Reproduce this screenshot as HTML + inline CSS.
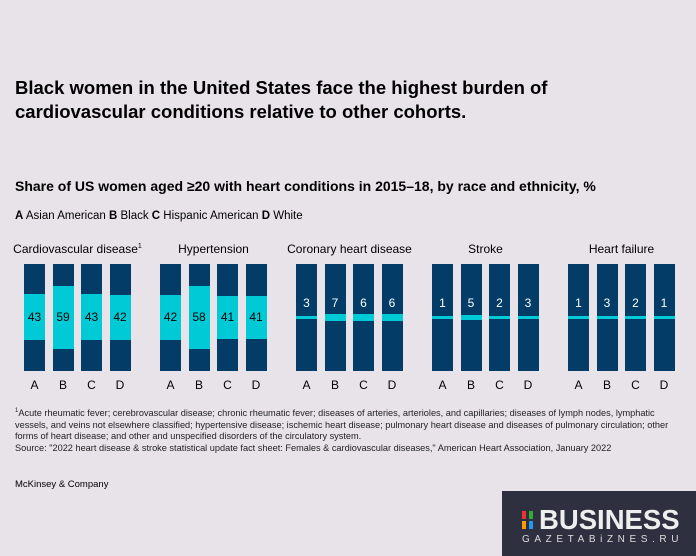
<!DOCTYPE html><html><head><meta charset="utf-8"><style>
body{margin:0;width:696px;height:556px;background:#e7e3e8;font-family:"Liberation Sans",sans-serif;color:#000;position:relative;overflow:hidden}
.a{position:absolute;white-space:nowrap}
.bar{position:absolute;width:21px;height:107px;top:264px;background:#033c66}
.hl{position:absolute;left:0;width:21px;background:#00cad6}
.v{position:absolute;width:21px;text-align:center;top:46px;font-size:12px;line-height:14px}
.l{position:absolute;width:21px;text-align:center;top:378px;font-size:12px}
.gt{position:absolute;top:242px;font-size:12px;text-align:center}
</style></head><body>
<div class="a" style="left:15px;top:76px;font-size:18.5px;font-weight:bold;line-height:24px">Black women in the United States face the highest burden of<br>cardiovascular conditions relative to other cohorts.</div>
<div class="a" style="left:15px;top:178px;font-size:14px;font-weight:bold">Share of US women aged ≥20 with heart conditions in 2015–18, by race and ethnicity, %</div>
<div class="a" style="left:15px;top:210px;font-size:11.5px"><b>A</b> Asian American <b>B</b> Black <b>C</b> Hispanic American <b>D</b> White</div>
<div id="c"></div>
<div class="a" style="left:15px;top:406px;font-size:9.2px;line-height:11.5px;color:#222"><sup style="font-size:6px">1</sup>Acute rheumatic fever; cerebrovascular disease; chronic rheumatic fever; diseases of arteries, arterioles, and capillaries; diseases of lymph nodes, lymphatic<br>vessels, and veins not elsewhere classified; hypertensive disease; ischemic heart disease; pulmonary heart disease and diseases of pulmonary circulation; other<br>forms of heart disease; and other and unspecified disorders of the circulatory system.<br>Source: "2022 heart disease &amp; stroke statistical update fact sheet: Females &amp; cardiovascular diseases," American Heart Association, January 2022</div>
<div class="a" style="left:15px;top:479px;font-size:9.5px">McKinsey &amp; Company</div>
<div class="a" style="left:502px;top:491px;width:194px;height:65px;background:#2e3040">
<div class="a" style="left:20px;top:20px;width:4px;height:8px;background:#e33"></div>
<div class="a" style="left:27px;top:20px;width:4px;height:8px;background:#3a3"></div>
<div class="a" style="left:20px;top:30px;width:4px;height:8px;background:#f90"></div>
<div class="a" style="left:27px;top:30px;width:4px;height:8px;background:#29e"></div>
<div class="a" style="left:37px;top:13px;font-size:27.5px;font-weight:bold;color:#eee;letter-spacing:0px">BUSINESS</div>
<div class="a" style="left:20px;top:43px;font-size:10px;color:#ddd;letter-spacing:4.6px">GAZETABiZNES.RU</div>
</div>
<script>
var G=[["Cardiovascular disease<sup style='font-size:7px'>1</sup>",[43,59,43,42],0],["Hypertension",[42,58,41,41],0],["Coronary heart disease",[3,7,6,6],1],["Stroke",[1,5,2,3],1],["Heart failure",[1,3,2,1],1]];
var h="";G.forEach(function(g,i){var x0=24+i*136;
h+='<div class="gt" style="left:'+(x0-30)+'px;width:167px">'+g[0]+'</div>';
g[1].forEach(function(v,j){var x=x0+j*28.5;var hh=v*107/100;if(hh<3)hh=3;var t=53.5-hh/2;
h+='<div class="bar" style="left:'+x+'px"><div class="hl" style="top:'+t+'px;height:'+hh+'px"></div><div class="v" style="top:'+(g[2]?32:46)+'px;color:'+(g[2]?'#fff':'#000')+'">'+v+'</div></div>';
h+='<div class="l" style="left:'+x+'px">'+"ABCD"[j]+'</div>';});});
document.getElementById("c").innerHTML=h;
</script>
</body></html>
